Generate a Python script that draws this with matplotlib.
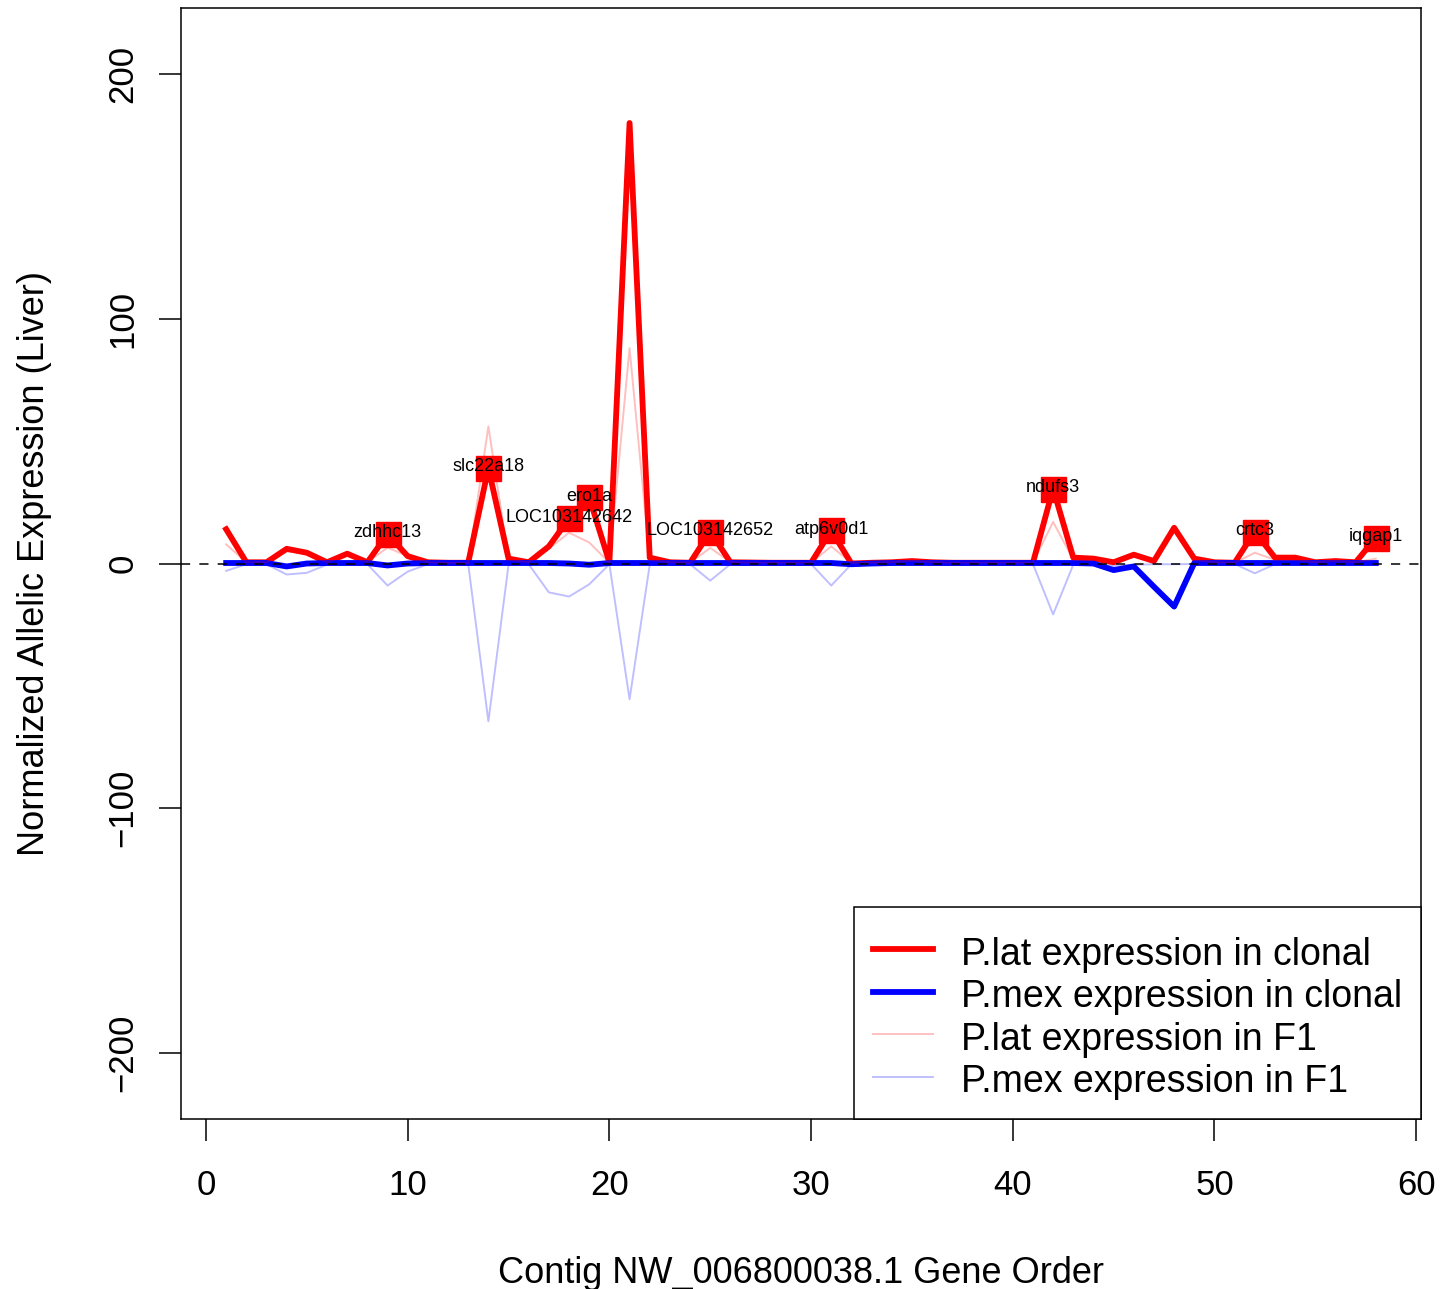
import numpy as np
import matplotlib
matplotlib.use("Agg")
import matplotlib.pyplot as plt

plt.rcParams['font.family'] = ['Liberation Sans', 'DejaVu Sans']

# gene order along the contig
gene_order = list(range(1, 59))

# P.lat / P.mex expression, clonal (thick) and F1 (thin)
lat_clonal = [14, 0.5, 0.5, 6, 4.4, 0.5, 4, 0.5, 12, 3,
              0.5, 0.3, 0.3, 39, 2, 0.5, 7, 18.4, 27, 0.5,
              180, 2.4, 0.5, 0.3, 13, 0.5, 0.4, 0.3, 0.3, 0.3,
              13.5, 0, 0.3, 0.5, 1, 0.5, 0.3, 0.3, 0.3, 0.3,
              0.3, 30.6, 2.4, 2, 0.5, 3.6, 1, 14.6, 2, 0.5,
              0.3, 13, 2.4, 2.4, 0.5, 1, 0.5, 10.5]
mex_clonal = [0.2, 0.2, 0.2, -1.2, 0, 0.2, 0.2, 0.2, -0.8, 0,
              0.2, 0.2, 0.2, 0.2, 0.2, 0.2, 0.2, 0, -0.5, 0.2,
              0.2, 0.2, 0.2, 0.2, 0.2, 0.2, 0.2, 0.2, 0.2, 0.2,
              0.2, -0.3, 0, 0.2, 0.2, 0.2, 0.2, 0.2, 0.2, 0.2,
              0.2, 0.2, 0.2, 0, -2.7, -1.2, -9.5, -17.6, 0.2, 0.2,
              0.2, 0.2, 0.2, 0.2, 0.2, 0.2, 0.2, 0.2]
lat_f1 = [7.8, 0.5, 0.5, 5, 4, 0.5, 3.5, 0.5, 6.5, 3,
          0.5, 0.2, 0.2, 56, 1.5, 0.5, 6, 12.6, 8.6, 0.3,
          88, 1.5, 0.5, 0.3, 6.4, 0.5, 0.3, 0.3, 0.3, 0.3,
          7, 0.2, 0.3, 0.5, 1.2, 0.5, 0.3, 0.3, 0.3, 0.3,
          0.3, 17, 1.5, 1.5, 0.5, 3, 1, 13, 1.5, 0.5,
          0.3, 4.4, 1.5, 1.5, 0.5, 1, 0.5, 2]
mex_f1 = [-3, -0.3, -0.3, -4.5, -3.8, -0.5, -0.3, -0.3, -9, -3.3,
          -0.3, -0.2, -0.2, -64.5, -0.5, -0.3, -11.8, -13.5, -8.5, -0.3,
          -55.5, -0.5, -0.3, -0.3, -7, -0.3, -0.2, -0.2, -0.2, -0.2,
          -9, -0.3, -0.2, -0.2, -0.2, -0.2, -0.2, -0.2, -0.2, -0.2,
          -0.2, -20.8, -0.5, -0.3, -1, -0.5, -0.3, -0.3, -0.2, -0.2,
          -0.2, -4, -0.3, -0.2, -0.2, -0.2, -0.2, -0.2]

# highlighted genes
gene_names = ['zdhhc13', 'slc22a18', 'LOC103142642', 'ero1a', 'LOC103142652',
              'atp6v0d1', 'ndufs3', 'crtc3', 'iqgap1']
gene_pos = [9, 14, 18, 19, 25, 31, 42, 52, 58]

fig = plt.figure(figsize=(14.41, 12.89), dpi=100)
ax = fig.add_axes([181/1441, 1 - 1119/1289, 1240/1441, 1111/1289])

ax.plot(gene_order, lat_clonal, color='#ff0000', lw=4.2, solid_joinstyle='round',
        label='P.lat expression in clonal')
ax.plot(gene_order, mex_clonal, color='#0000ff', lw=4.2, solid_joinstyle='round',
        label='P.mex expression in clonal')
ax.plot(gene_order, lat_f1, color='#ff0000', alpha=0.25, lw=1.4,
        label='P.lat expression in F1')
ax.plot(gene_order, mex_f1, color='#0000ff', alpha=0.25, lw=1.4,
        label='P.mex expression in F1')
ax.axhline(0, color='black', lw=1.1, ls=(0, (6, 6)))

sq_y = [lat_clonal[p - 1] for p in gene_pos]
ax.plot(gene_pos, sq_y, 's', color='#ff0000', ms=18, ls='none')
for name, px, py in zip(gene_names, gene_pos, sq_y):
    ax.text(px, py + 0.5, name, ha='center', va='center', fontsize=13)

ax.set_xlim(-1.24, 60.24)
ax.set_ylim(-227, 227)
ax.set_xticks([0, 10, 20, 30, 40, 50, 60])
ax.set_yticks([-200, -100, 0, 100, 200])
ax.tick_params(axis='both', length=16, width=1.1, labelsize=25, direction='out')
ax.tick_params(axis='x', pad=20)
ax.tick_params(axis='y', pad=14)
for lbl in ax.get_yticklabels():
    lbl.set_rotation(90)
    lbl.set_va('center')
for s in ax.spines.values():
    s.set_linewidth(1.1)

fig.text(801/1441, 1 - 1283/1289, 'Contig NW_006800038.1 Gene Order',
         ha='center', va='baseline', fontsize=26)
fig.text(44/1441, 1 - 564/1289, 'Normalized Allelic Expression (Liver)',
         ha='center', va='baseline', rotation=90, rotation_mode='anchor', fontsize=26)

# blank small title just adds a bit of room above the first entry
leg = ax.legend(loc='lower right', fontsize=27, frameon=True, fancybox=False,
                borderaxespad=0, borderpad=0.5, labelspacing=0.1, handleheight=1.1,
                handlelength=1.6, handletextpad=0.75, framealpha=1,
                title=' ', title_fontsize=4)
leg.get_frame().set_edgecolor('black')
leg.get_frame().set_linewidth(1.1)

fig.savefig('out.png', dpi=100)
